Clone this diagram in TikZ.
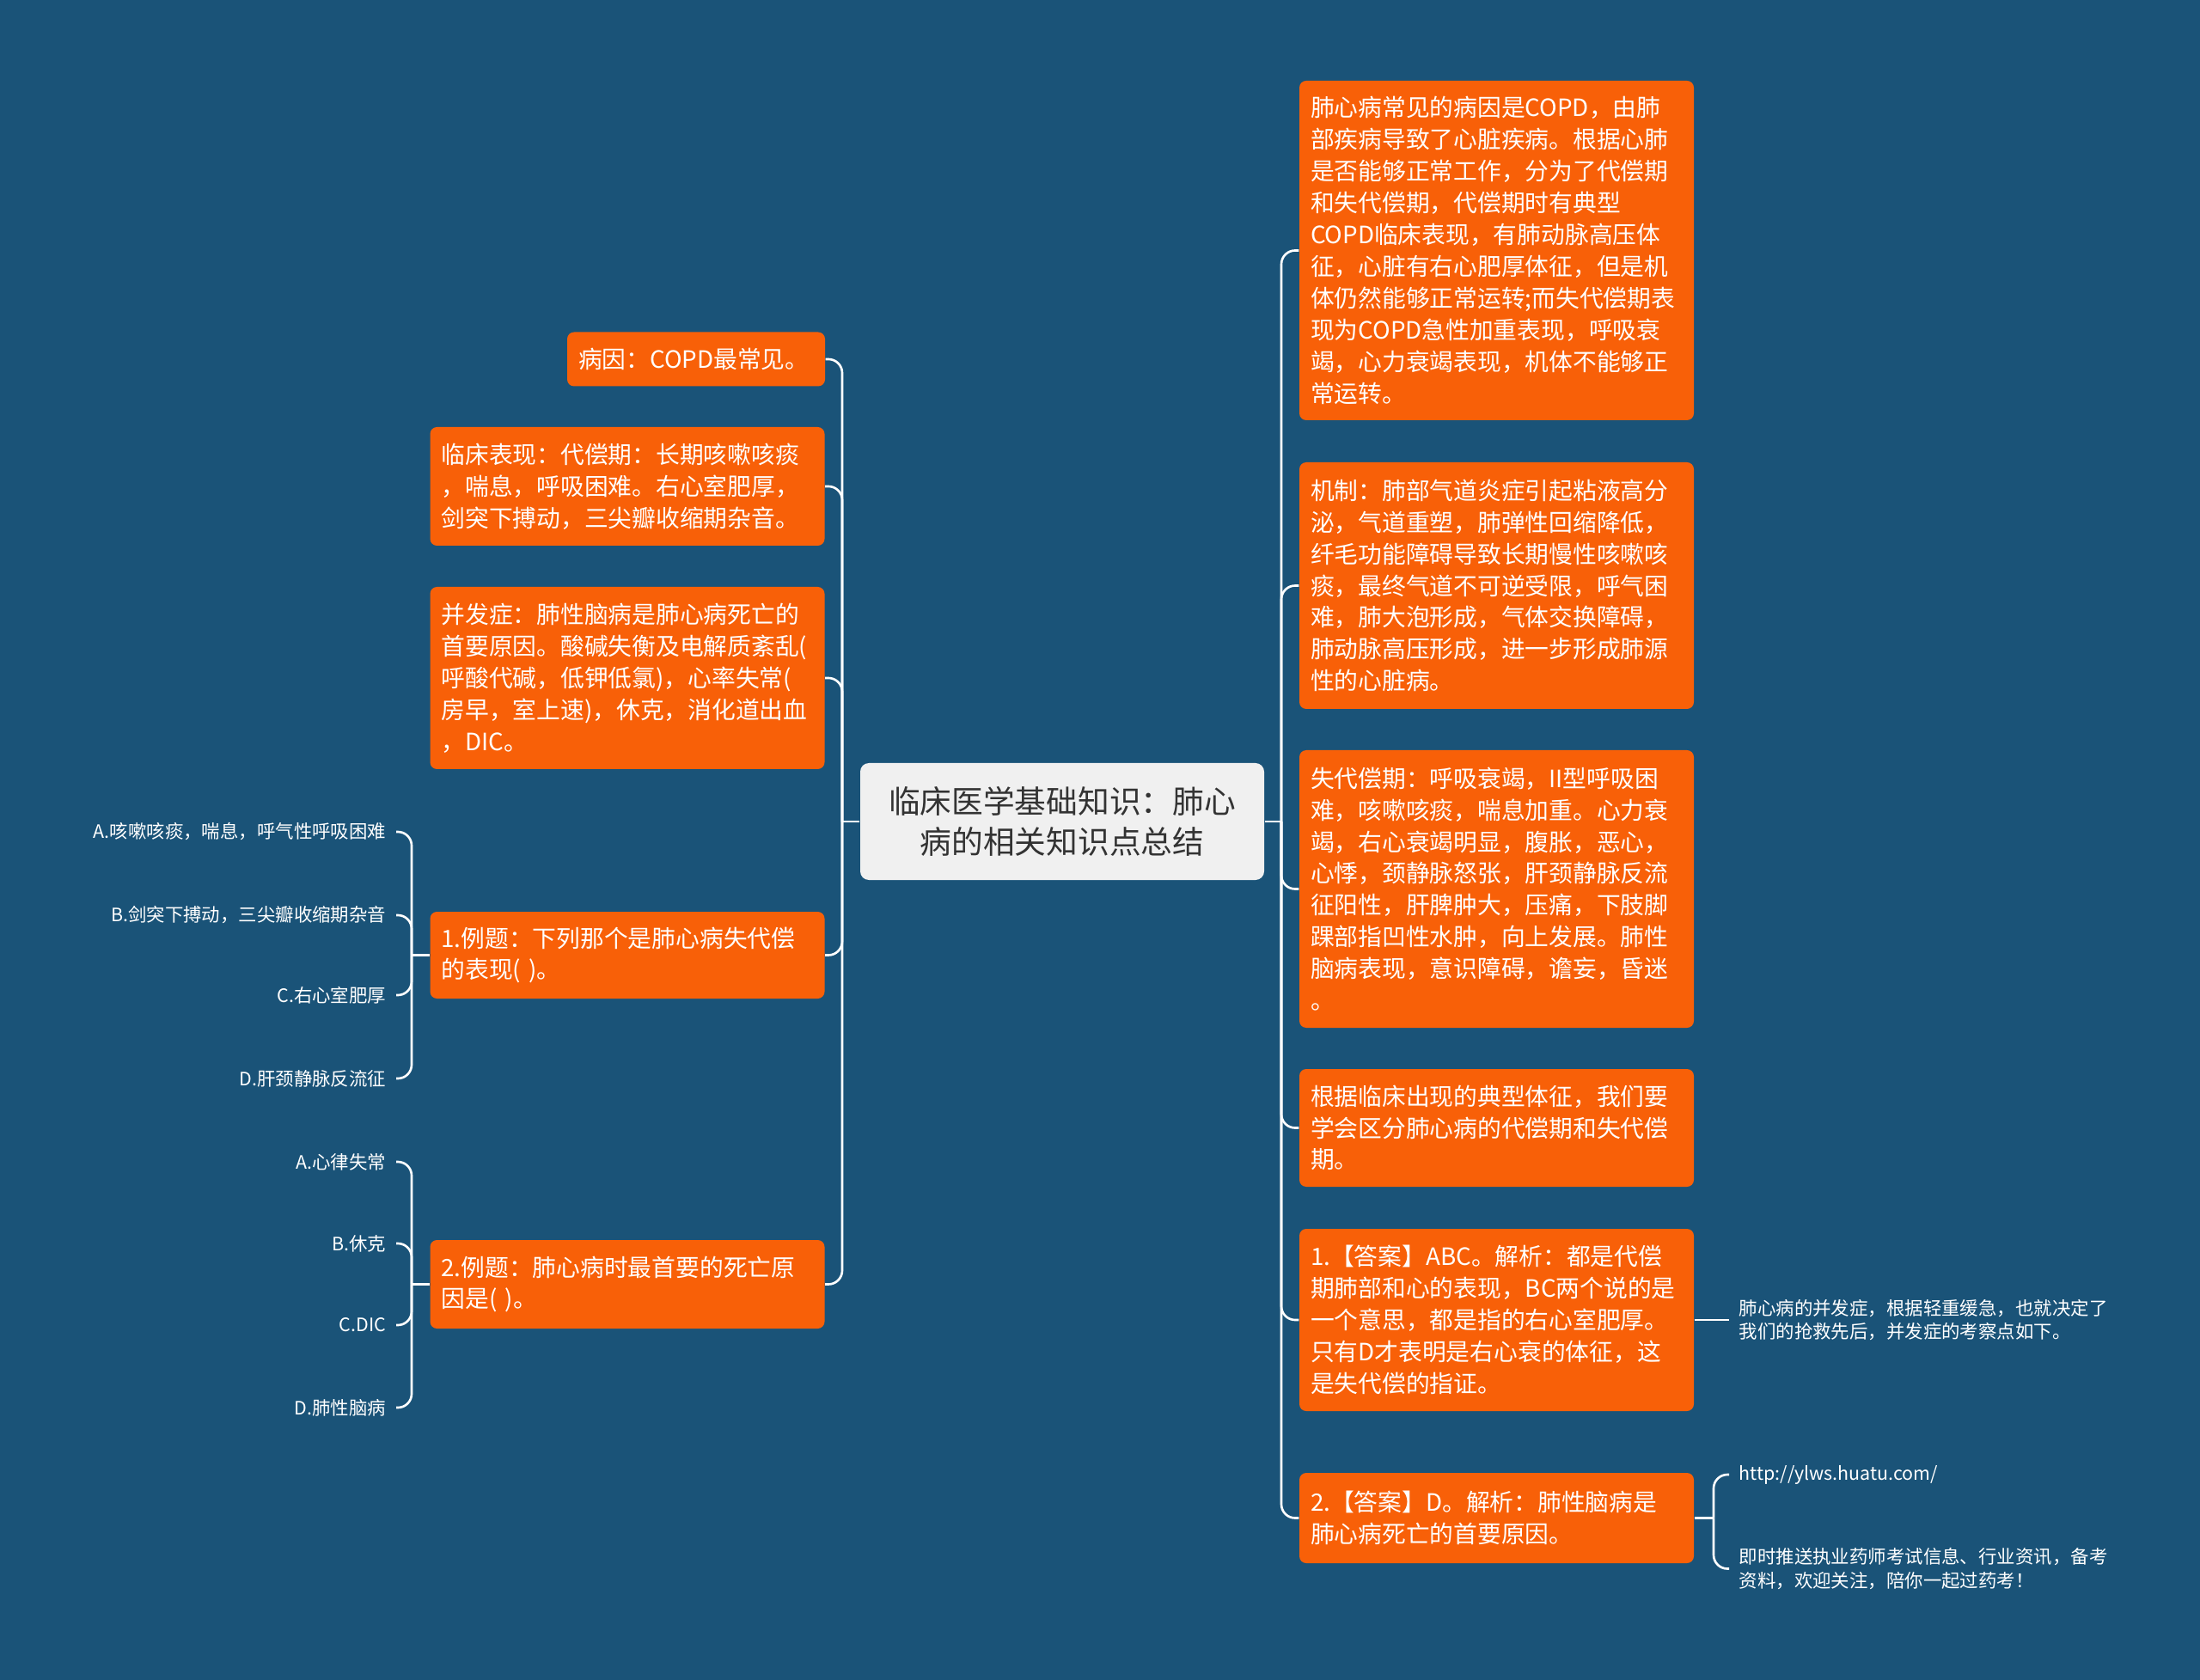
\documentclass[tikz,border=0pt]{standalone}
\usepackage{fontspec}
\newfontfamily\cjk{Noto Sans CJK SC}
\definecolor{bgblue}{RGB}{26,83,120}
\definecolor{topicorange}{RGB}{248,96,8}
\definecolor{rootgray}{RGB}{240,240,240}
\definecolor{roottext}{RGB}{51,51,51}

\begin{document}
\begin{tikzpicture}[
  root/.style={fill=rootgray, text=roottext, rounded corners=0.1cm, align=center,
    minimum width=4.70cm, minimum height=1.36cm,
    font=\cjk\fontsize{10.45pt}{13.4pt}\selectfont},
  topic/.style={fill=topicorange, text=white, rounded corners=0.08cm, align=left,
    text width=4.33cm, inner xsep=0.13cm, inner ysep=0.1cm,
    font=\cjk\fontsize{7.9pt}{10.5pt}\selectfont},
  leaf/.style={text=white, align=left, inner xsep=0.11cm, inner ysep=0.05cm,
    font=\cjk\fontsize{6.1pt}{7.9pt}\selectfont},
  link/.style={white, line width=0.75pt, rounded corners=0.16cm}
]
\fill[bgblue] (0,0) rectangle (25.6,-19.55);
\useasboundingbox (0,0) rectangle (25.6,-19.55);

\node[root] (main) at (12.36,-9.56) {临床医学基础知识：肺心\\病的相关知识点总结};

% right branch
\node[topic, minimum height=3.95cm] (cause) at (17.415,-2.915) {肺心病常见的病因是COPD，由肺\\部疾病导致了心脏疾病。根据心肺\\是否能够正常工作，分为了代偿期\\和失代偿期，代偿期时有典型\\COPD临床表现，有肺动脉高压体\\征，心脏有右心肥厚体征，但是机\\体仍然能够正常运转;而失代偿期表\\现为COPD急性加重表现，呼吸衰\\竭，心力衰竭表现，机体不能够正\\常运转。};
\node[topic, minimum height=2.87cm] (mech) at (17.415,-6.815) {机制：肺部气道炎症引起粘液高分\\泌，气道重塑，肺弹性回缩降低，\\纤毛功能障碍导致长期慢性咳嗽咳\\痰，最终气道不可逆受限，呼气困\\难，肺大泡形成，气体交换障碍，\\肺动脉高压形成，进一步形成肺源\\性的心脏病。};
\node[topic, minimum height=3.23cm] (decomp) at (17.415,-10.345) {失代偿期：呼吸衰竭，II型呼吸困\\难，咳嗽咳痰，喘息加重。心力衰\\竭，右心衰竭明显，腹胀，恶心，\\心悸，颈静脉怒张，肝颈静脉反流\\征阳性，肝脾肿大，压痛，下肢脚\\踝部指凹性水肿，向上发展。肺性\\脑病表现，意识障碍，谵妄，昏迷\\。};
\node[topic, minimum height=1.37cm] (tell) at (17.415,-13.125) {根据临床出现的典型体征，我们要\\学会区分肺心病的代偿期和失代偿\\期。};
\node[topic, minimum height=2.12cm] (ans1) at (17.415,-15.36) {1.【答案】ABC。解析：都是代偿\\期肺部和心的表现，BC两个说的是\\一个意思，都是指的右心室肥厚。\\只有D才表明是右心衰的体征，这\\是失代偿的指证。};
\node[topic, minimum height=1.05cm] (ans2) at (17.415,-17.665) {2.【答案】D。解析：肺性脑病是\\肺心病死亡的首要原因。};

% left branch
\node[topic, text width=2.74cm, minimum height=0.63cm] (etio) at (8.10,-4.18) {病因：COPD最常见。};
\node[topic, minimum height=1.38cm] (clinic) at (7.30,-5.66) {临床表现：代偿期：长期咳嗽咳痰\\，喘息，呼吸困难。右心室肥厚，\\剑突下搏动，三尖瓣收缩期杂音。};
\node[topic, minimum height=2.12cm] (compl) at (7.30,-7.89) {并发症：肺性脑病是肺心病死亡的\\首要原因。酸碱失衡及电解质紊乱(\\呼酸代碱，低钾低氯)，心率失常(\\房早，室上速)，休克，消化道出血\\，DIC。};
\node[topic, minimum height=1.01cm] (ex1) at (7.30,-11.115) {1.例题：下列那个是肺心病失代偿\\的表现( )。};
\node[topic, minimum height=1.03cm] (ex2) at (7.30,-14.945) {2.例题：肺心病时最首要的死亡原\\因是( )。};

% answer options
\foreach \i/\y/\txt in {a/-9.68/{A.咳嗽咳痰，喘息，呼气性呼吸困难}, b/-10.65/{B.剑突下搏动，三尖瓣收缩期杂音}, c/-11.58/{C.右心室肥厚}, d/-12.55/{D.肝颈静脉反流征}}
  \node[leaf, anchor=east] (ex1\i) at (4.61,\y) {\txt};
\foreach \i/\y/\txt in {a/-13.52/{A.心律失常}, b/-14.47/{B.休克}, c/-15.42/{C.DIC}, d/-16.38/{D.肺性脑病}}
  \node[leaf, anchor=east] (ex2\i) at (4.61,\y) {\txt};

\node[leaf, anchor=west] (note) at (20.12,-15.36) {肺心病的并发症，根据轻重缓急，也就决定了\\我们的抢救先后，并发症的考察点如下。};
\node[leaf, anchor=west] (url) at (20.12,-17.16) {http://ylws.huatu.com/};
\node[leaf, anchor=west] (ad) at (20.12,-18.255) {即时推送执业药师考试信息、行业资讯，备考\\资料，欢迎关注，陪你一起过药考！};

% connectors
\coordinate (rfork) at (14.91,-9.56);
\coordinate (lfork) at (9.80,-9.56);
\draw[link] (main.east) -- (rfork);
\draw[link] (main.west) -- (lfork);
\foreach \n in {cause,mech,decomp,tell,ans1,ans2}
  \draw[link] (rfork) |- (\n.west);
\foreach \n in {etio,clinic,compl,ex1,ex2}
  \draw[link] (lfork) |- (\n.east);

\coordinate (ex1fork) at (4.79,-11.115);
\coordinate (ex2fork) at (4.79,-14.945);
\draw[link] (ex1.west) -- (ex1fork);
\draw[link] (ex2.west) -- (ex2fork);
\foreach \i in {a,b,c,d}{
  \draw[link] (ex1fork) |- (ex1\i.east);
  \draw[link] (ex2fork) |- (ex2\i.east);
}

\draw[link] (ans1) -- (note);
\coordinate (ans2fork) at (19.94,-17.665);
\draw[link] (ans2.east) -- (ans2fork);
\draw[link] (ans2fork) |- (url.west); %top
\draw[link] (ans2fork) |- (ad.west);
\end{tikzpicture}
\end{document}
